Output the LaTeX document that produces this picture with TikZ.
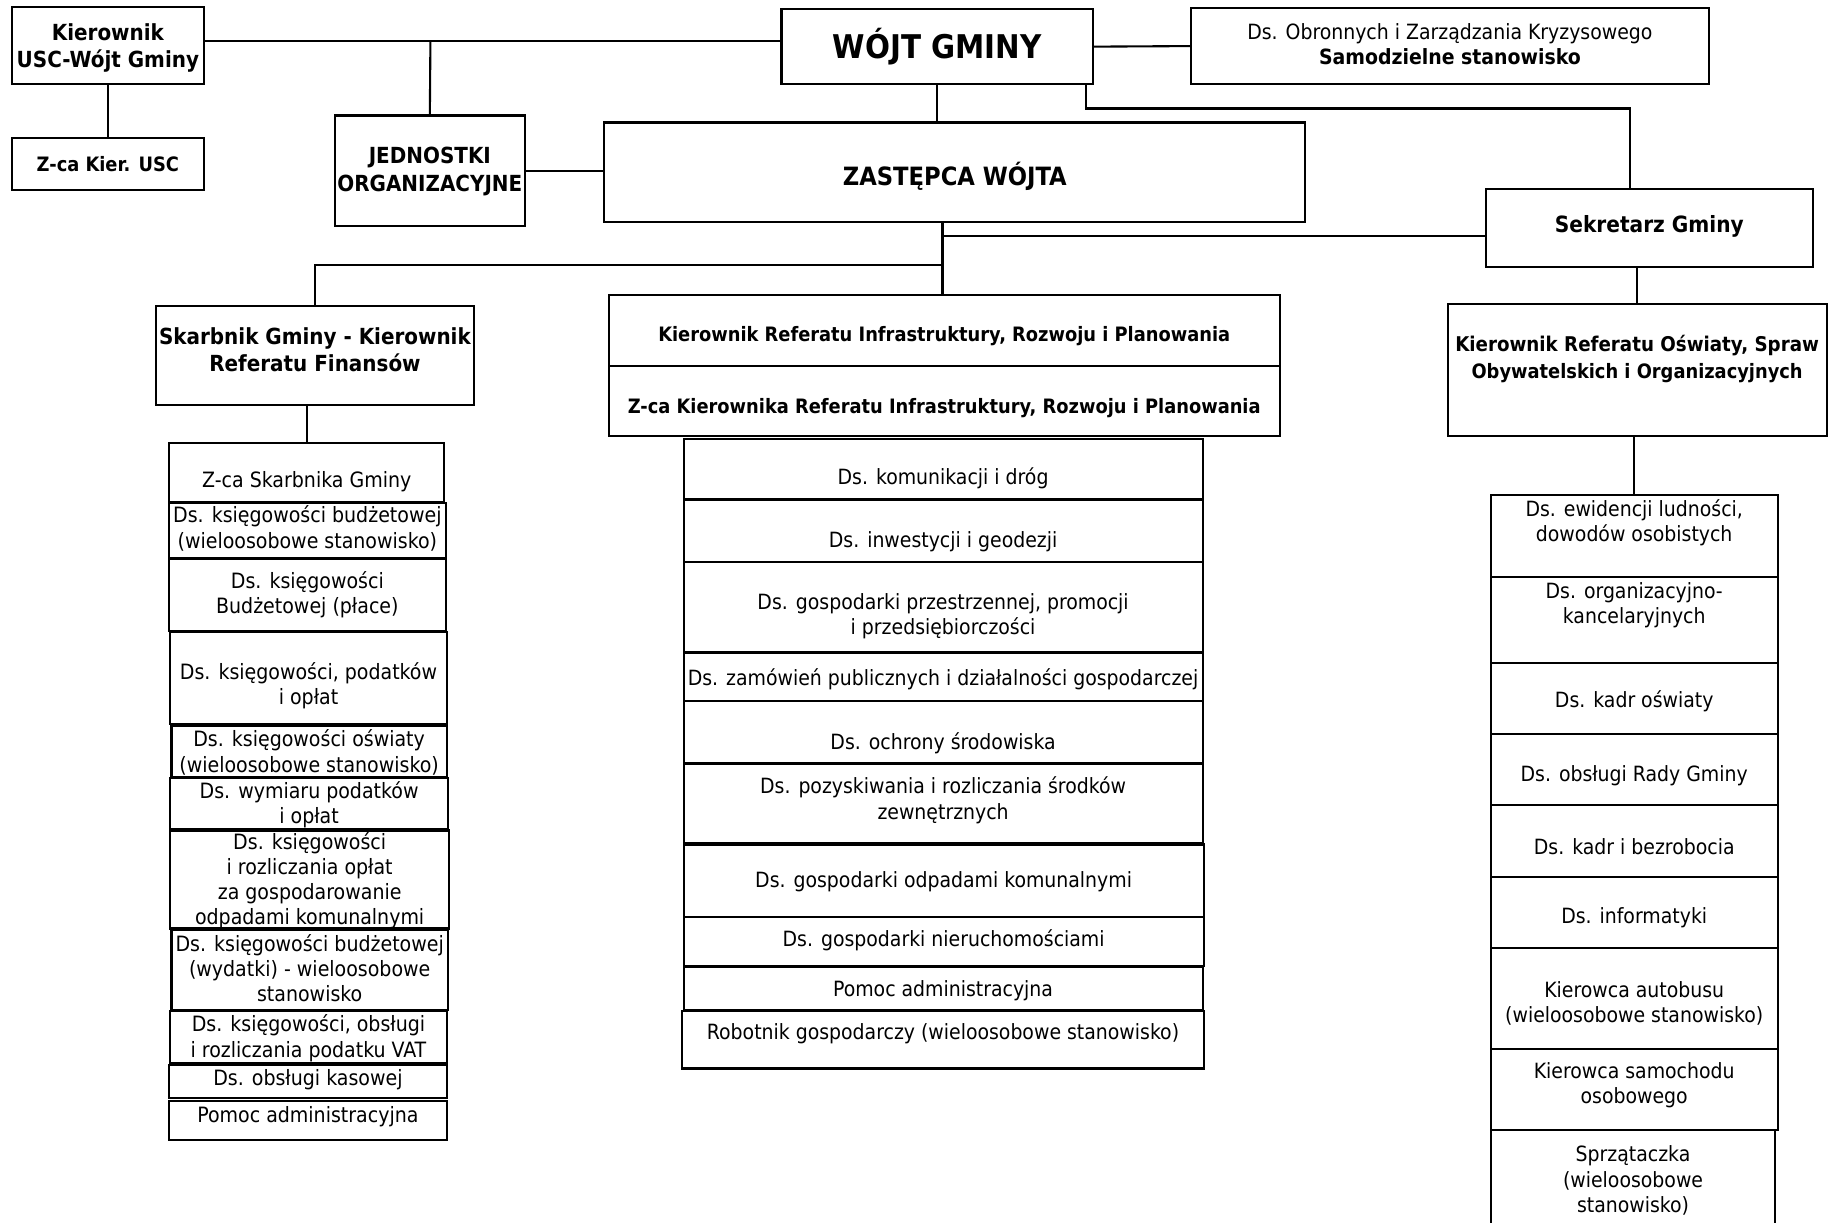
\documentclass[tikz,border=0pt]{standalone}
\usepackage{fontspec}
\setmainfont{DejaVu Sans Condensed}
\newcommand\obox[8]{% #1 text style, #2 name, #3 x1, #4 y1, #5 x2, #6 y2, #7 text y, #8 text
  \node[box, minimum width={(#5-#3)/2}, minimum height={(#6-#4)/2}] (#2) at ({(#3+#5)/2},{(#4+#6)/2}) {};
  \node[#1] (#2-t) at ({(#3+#5)/2},#7) {#8};}
\begin{document}
\begin{tikzpicture}[x=0.5pt,y=-0.5pt,
  box/.style={draw, line width=0.9pt, inner sep=0pt, outer sep=0pt},
  txt/.style={align=center, inner sep=0pt, font=\fontsize{9}{10.8}\selectfont},
  ltxt/.style={align=center, inner sep=0pt, font=\fontsize{9.05}{10.8}\selectfont},
  btxt/.style={align=center, inner sep=0pt, font=\bfseries\fontsize{8.5}{11.4}\selectfont},
  bbig/.style={align=center, inner sep=0pt, font=\bfseries\fontsize{9.5}{11.8}\selectfont},
  ln/.style={line width=0.9pt}]
\useasboundingbox (0,0) rectangle (1568,1048);
\clip (0,0) rectangle (1568,1048);
% top level
\obox{bbig}{kusc}{10}{6}{175}{72}{41}{Kierownik\\USC-Wójt Gminy}
\obox{btxt}{zusc}{10}{118}{175}{163}{141}{Z-ca Kier. USC}
\obox{btxt}{wojt}{670}{8}{937}{72}{40}{\fontsize{14}{17}\selectfont WÓJT GMINY}
\obox{txt}{obr}{1021}{7}{1465}{72}{38}{Ds. Obronnych i Zarządzania Kryzysowego\\\textbf{Samodzielne stanowisko}}
\obox{bbig}{jedn}{287}{99}{450}{194}{147}{JEDNOSTKI\\ORGANIZACYJNE}
\obox{btxt}{zast}{518}{105}{1119}{190}{151}{\fontsize{10.8}{13}\selectfont ZASTĘPCA WÓJTA}
\obox{btxt}{sek}{1274}{162}{1554}{229}{194}{\fontsize{9.6}{12}\selectfont Sekretarz Gminy}
% finance column
\obox{bbig}{skarb}{134}{262}{406}{347}{300}{Skarbnik Gminy - Kierownik\\Referatu Finansów}
\obox{ltxt}{zskarb}{145}{380}{381}{430}{413}{Z-ca Skarbnika Gminy}
\obox{ltxt}{f1}{145}{431}{382}{478}{453}{Ds. księgowości budżetowej\\(wieloosobowe stanowisko)}
\obox{ltxt}{f2}{145}{479}{382}{541}{510}{Ds. księgowości\\Budżetowej (płace)}
\obox{ltxt}{f3}{146}{542}{383}{621}{588}{Ds. księgowości, podatków\\i opłat}
\obox{ltxt}{f4}{147}{622}{383}{666}{645}{Ds. księgowości oświaty\\(wieloosobowe stanowisko)}
\obox{ltxt}{f5}{146}{667}{384}{711}{690}{Ds. wymiaru podatków\\i opłat}
\obox{ltxt}{f6}{146}{712}{385}{796}{755}{Ds. księgowości\\i rozliczania opłat\\za gospodarowanie\\odpadami komunalnymi}
\obox{ltxt}{f7}{147}{797}{384}{866}{830}{Ds. księgowości budżetowej\\(wydatki) - wieloosobowe\\stanowisko}
\obox{ltxt}{f8}{146}{867}{383}{911}{890}{Ds. księgowości, obsługi\\i rozliczania podatku VAT}
\obox{ltxt}{f9}{145}{913}{383}{941}{926}{Ds. obsługi kasowej}
\obox{ltxt}{f10}{145}{944}{383}{977}{957}{Pomoc administracyjna}
% infrastructure column
\obox{btxt}{infra}{522}{253}{1097}{314}{288}{Kierownik Referatu Infrastruktury, Rozwoju i Planowania}
\obox{btxt}{zinfra}{522}{314}{1097}{374}{350}{Z-ca Kierownika Referatu Infrastruktury, Rozwoju i Planowania}
\obox{txt}{m1}{586}{376}{1031}{428}{410}{Ds. komunikacji i dróg}
\obox{txt}{m2}{586}{429}{1031}{482}{464}{Ds. inwestycji i geodezji}
\obox{txt}{m3}{586}{482}{1031}{559}{528}{Ds. gospodarki przestrzennej, promocji\\i przedsiębiorczości}
\obox{txt}{m4}{586}{560}{1031}{601}{582}{Ds. zamówień publicznych i działalności gospodarczej}
\obox{txt}{m5}{586}{601}{1031}{654}{637}{Ds. ochrony środowiska}
\obox{txt}{m6}{586}{655}{1031}{723}{686}{Ds. pozyskiwania i rozliczania środków\\zewnętrznych}
\obox{txt}{m7}{586}{724}{1032}{786}{756}{Ds. gospodarki odpadami komunalnymi}
\obox{txt}{m8}{586}{786}{1032}{828}{806}{Ds. gospodarki nieruchomościami}
\obox{txt}{m9}{586}{829}{1031}{866}{849}{Pomoc administracyjna}
\obox{txt}{m10}{585}{867}{1032}{916}{886}{Robotnik gospodarczy (wieloosobowe stanowisko)}
% secretary column
\obox{btxt}{osw}{1241}{261}{1566}{374}{308}{\fontsize{8.7}{11.4}\selectfont Kierownik Referatu Oświaty, Spraw\\Obywatelskich i Organizacyjnych}
\obox{txt}{r1}{1278}{424}{1524}{495}{448}{Ds. ewidencji ludności,\\dowodów osobistych}
\obox{txt}{r2}{1278}{495}{1524}{568}{519}{Ds. organizacyjno-\\kancelaryjnych}
\obox{txt}{r3}{1278}{568}{1524}{629}{601}{Ds. kadr oświaty}
\obox{txt}{r4}{1278}{629}{1524}{690}{665}{Ds. obsługi Rady Gminy}
\obox{txt}{r5}{1278}{690}{1524}{752}{726}{Ds. kadr i bezrobocia}
\obox{txt}{r6}{1278}{752}{1524}{813}{787}{Ds. informatyki}
\obox{txt}{r7}{1278}{813}{1524}{899}{860}{Kierowca autobusu\\(wieloosobowe stanowisko)}
\obox{txt}{r8}{1278}{899}{1524}{969}{930}{Kierowca samochodu\\osobowego}
\obox{txt}{r9}{1278}{969}{1522}{1060}{1012}{Sprzątaczka\\(wieloosobowe\\stanowisko)}
% connectors
\coordinate (c1) at (931,93);
\coordinate (c2) at (1397,93);
\coordinate (j1) at (808,202);
\coordinate (j2) at (808,227);
\coordinate (h1) at (369,35);
\draw[ln] (kusc.east |- h1) -- (wojt.west |- h1);
\draw[ln] (jedn.north) -- (h1);
\draw[ln] (kusc.south) -- (zusc.north);
\draw[ln] (wojt.east) -- (obr.west);
\draw[ln] (wojt.south) -- (wojt.south |- zast.north);
\draw[ln] (wojt.south -| c1) -- (c1) -- (c2) -- (c2 |- sek.north);
\draw[ln] (jedn.east) -- (zast.west |- jedn.east);
\draw[ln] (zast.south -| j1) -- (infra.north -| j1);
\draw[ln] (j1) -- (sek.west |- j1);
\draw[ln] (j2) -- (skarb.north |- j2) -- (skarb.north);
\draw[ln] (sek.south -| osw.north) -- (osw.north);
\draw[ln] (osw.south) -- (osw.south -| r1.north) -- (r1.north);
\draw[ln] (zskarb.north |- skarb.south) -- (zskarb.north);
\end{tikzpicture}
\end{document}
